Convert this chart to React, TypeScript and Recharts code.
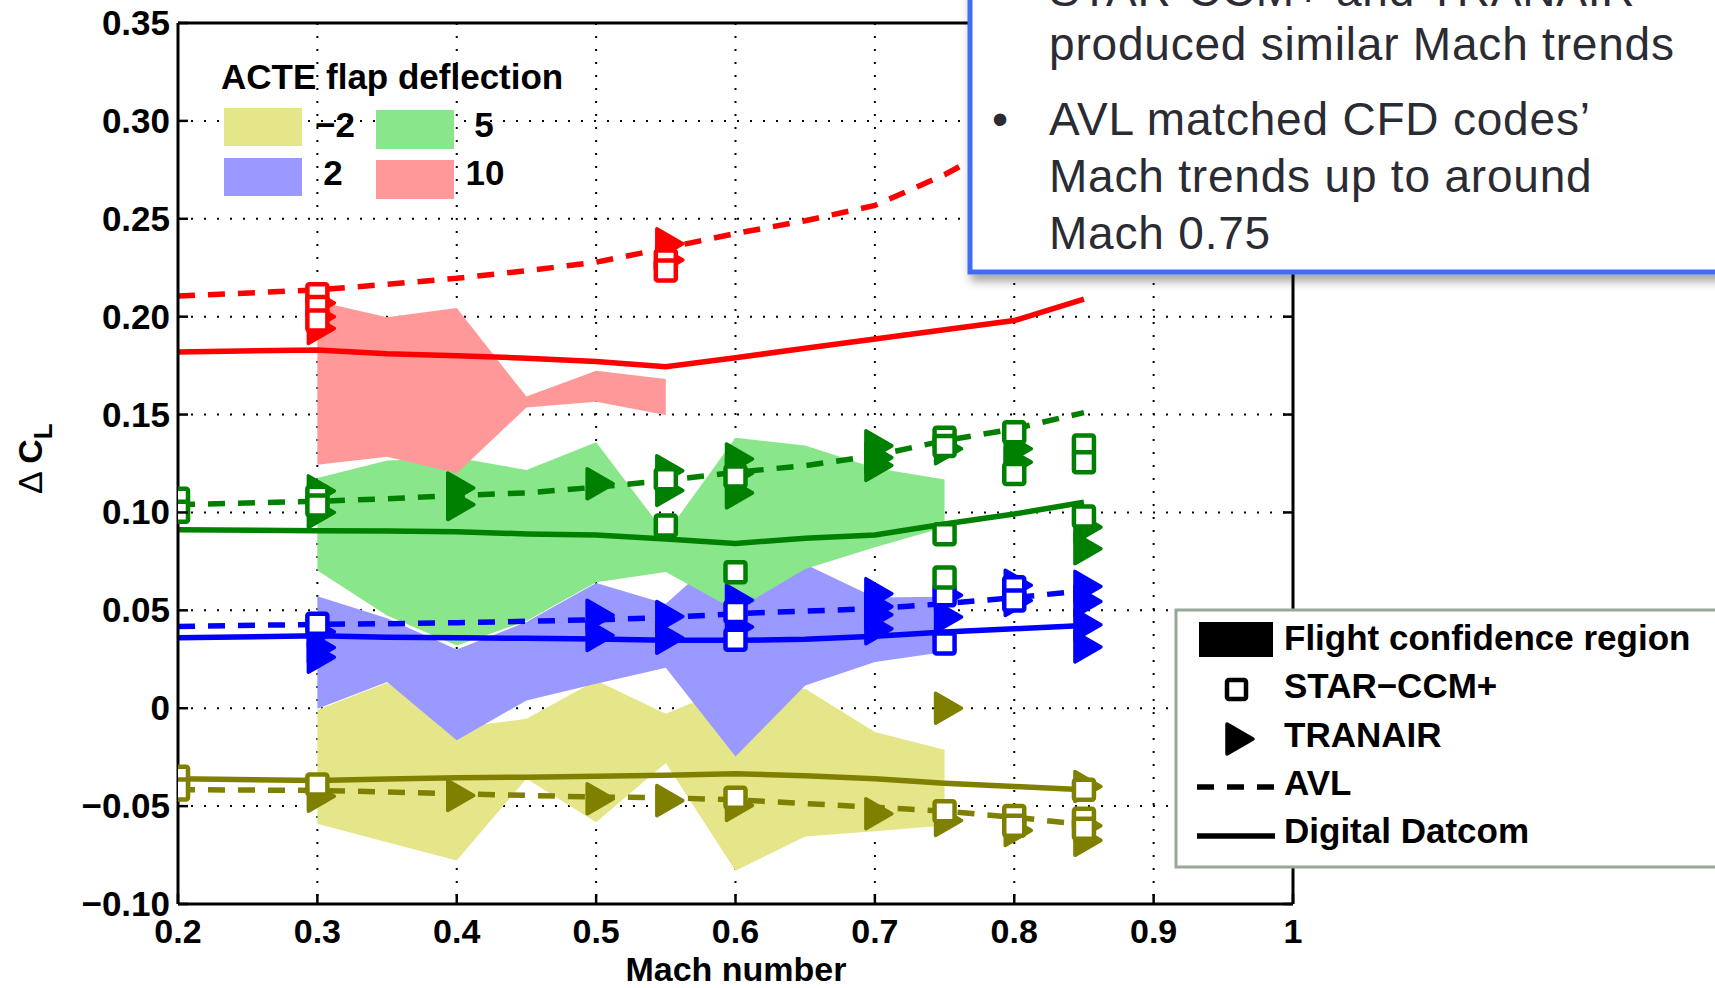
import React from "react"
import {
  ComposedChart,
  Area,
  Line,
  Scatter,
  XAxis,
  YAxis,
  CartesianGrid,
} from "recharts"

// Mach numbers and ΔCL values.
const xTicks = [0.2, 0.3, 0.4, 0.5, 0.6, 0.7, 0.8, 0.9, 1]
const yTicks = [-0.1, -0.05, 0, 0.05, 0.1, 0.15, 0.2, 0.25, 0.3, 0.35]
const yTickLabels = ["−0.10", "−0.05", "0", "0.05", "0.10", "0.15", "0.20", "0.25", "0.30", "0.35"]

// flight confidence regions
const bandMach = [0.3, 0.35, 0.4, 0.45, 0.5, 0.55, 0.6, 0.65, 0.7, 0.75]
const yellowLow = [-0.059, -0.0684, -0.0778, -0.036, -0.0582, -0.028, -0.083, -0.0655, -0.0628, -0.0599]
const yellowHigh = [-0.0009, 0.013, -0.01, -0.0054, 0.0142, -0.0028, 0.012, 0.0099, -0.0122, -0.0212]
const blueLow = [-0.0003, 0.0134, -0.0164, 0.004, 0.0125, 0.0207, -0.0247, 0.0116, 0.0236, 0.0287]
const blueHigh = [0.0572, 0.046, 0.03, 0.044, 0.064, 0.0534, 0.085, 0.0735, 0.0566, 0.057]
const greenLow = [0.0703, 0.0473, 0.032, 0.0445, 0.0644, 0.0696, 0.05, 0.0711, 0.0822, 0.0925]
const greenHigh = [0.1176, 0.1265, 0.128, 0.1217, 0.1359, 0.089, 0.1381, 0.1342, 0.1227, 0.1168]
const redBandMach = [0.3, 0.35, 0.4, 0.45, 0.5, 0.55]
const redLow = [0.1244, 0.1285, 0.12, 0.1536, 0.1565, 0.1498]
const redHigh = [0.2079, 0.1997, 0.2044, 0.1592, 0.1724, 0.1681]

// Digital Datcom (solid) and AVL (dashed)
const lineMach = [0.2, 0.3, 0.35, 0.4, 0.45, 0.5, 0.55, 0.6, 0.65, 0.7, 0.75, 0.8, 0.85]
const yellowDatcom = [-0.036, -0.0369, -0.0362, -0.0355, -0.0352, -0.0348, -0.0342, -0.0335, -0.0345, -0.036, -0.0383, -0.04, -0.0417]
const yellowAvl = [-0.0416, -0.042, -0.0428, -0.0437, -0.0445, -0.0454, -0.0457, -0.0468, -0.0487, -0.0506, -0.0526, -0.0557, -0.0594]
const blueDatcom = [0.036, 0.037, 0.0362, 0.036, 0.0357, 0.0353, 0.0347, 0.0347, 0.0352, 0.0367, 0.0389, 0.0406, 0.0423]
const blueAvl = [0.0418, 0.0428, 0.0432, 0.0437, 0.0444, 0.0452, 0.0463, 0.0483, 0.0496, 0.0509, 0.0534, 0.0565, 0.06]
const greenDatcom = [0.0911, 0.0907, 0.0905, 0.0902, 0.089, 0.0885, 0.0864, 0.0842, 0.0868, 0.0885, 0.0941, 0.0992, 0.1052]
const greenAvl = [0.104, 0.1057, 0.107, 0.1086, 0.11, 0.1129, 0.1163, 0.1205, 0.1239, 0.129, 0.1367, 0.1427, 0.151]
const redDatcom = [0.182, 0.183, 0.181, 0.18, 0.1788, 0.1771, 0.1744, 0.179, 0.1839, 0.1886, 0.1933, 0.198, 0.209]
const redAvl = [0.2105, 0.2137, 0.2165, 0.2196, 0.2235, 0.2278, 0.235, 0.2425, 0.249, 0.2568, 0.2725, 0.292, 0.313]

// STAR-CCM+ (squares)
const yellowStarMach = [0.2, 0.2, 0.3, 0.6, 0.75, 0.8, 0.8, 0.85, 0.85, 0.85]
const yellowStarCl = [-0.035, -0.0415, -0.039, -0.0457, -0.0526, -0.055, -0.06, -0.0417, -0.0565, -0.0616]
const blueStarMach = [0.3, 0.6, 0.6, 0.75, 0.75, 0.8, 0.8]
const blueStarCl = [0.0432, 0.0491, 0.035, 0.0577, 0.033, 0.0618, 0.055]
const greenStarMach = [0.2, 0.2, 0.3, 0.3, 0.55, 0.55, 0.6, 0.6, 0.75, 0.75, 0.75, 0.75, 0.8, 0.8, 0.85, 0.85, 0.85]
const greenStarCl = [0.107, 0.1003, 0.108, 0.1035, 0.117, 0.0933, 0.1183, 0.0694, 0.1382, 0.134, 0.0889, 0.0668, 0.141, 0.1197, 0.1342, 0.1257, 0.0979]
const redStarMach = [0.3, 0.3, 0.3, 0.55, 0.55]
const redStarCl = [0.2115, 0.205, 0.198, 0.2287, 0.2236]

// TRANAIR (triangles)
const yellowTranMach = [0.3, 0.4, 0.5, 0.55, 0.6, 0.7, 0.75, 0.75, 0.8, 0.85, 0.85, 0.85]
const yellowTranCl = [-0.045, -0.0446, -0.0463, -0.0472, -0.0497, -0.0539, 0, -0.0573, -0.0624, -0.04, -0.06, -0.0675]
const blueTranMach = [0.3, 0.3, 0.3, 0.5, 0.5, 0.55, 0.55, 0.6, 0.6, 0.7, 0.7, 0.7, 0.7, 0.75, 0.75, 0.8, 0.8, 0.85, 0.85, 0.85, 0.85]
const blueTranCl = [0.039, 0.031, 0.026, 0.0475, 0.0372, 0.0468, 0.0358, 0.0551, 0.0415, 0.0585, 0.0519, 0.0477, 0.0406, 0.0577, 0.0466, 0.0628, 0.055, 0.0622, 0.0545, 0.0426, 0.0313]
const greenTranMach = [0.3, 0.3, 0.4, 0.4, 0.5, 0.55, 0.55, 0.6, 0.6, 0.6, 0.7, 0.7, 0.7, 0.75, 0.8, 0.8, 0.85, 0.85]
const greenTranCl = [0.111, 0.1, 0.1125, 0.104, 0.1146, 0.1213, 0.1112, 0.1273, 0.12, 0.11, 0.134, 0.128, 0.124, 0.1325, 0.1325, 0.1257, 0.0925, 0.0815]
const redTranMach = [0.3, 0.3, 0.3, 0.55, 0.55]
const redTranCl = [0.207, 0.2, 0.194, 0.2372, 0.229]

const FONT = '"Liberation Sans", Arial, Helvetica, sans-serif'

const C = {
  yellow: "#808000",
  blue: "#0000ff",
  green: "#008000",
  red: "#ff0000",
  yellowFill: "#e5e68a",
  blueFill: "#9999ff",
  greenFill: "#8ae68a",
  redFill: "#ff9999",
}

const LINE_W = 5.5

const pts = (xs: number[], ys: number[]) => xs.map((x, i) => ({ x, y: ys[i] }))
const band = (xs: number[], lo: number[], hi: number[]) =>
  xs.map((x, i) => ({ x, range: [lo[i], hi[i]] }))

const SquareMark = (color: string) => (p: any) => {
  if (p.cx == null || p.cy == null) return <g />
  return (
    <rect x={p.cx - 10} y={p.cy - 10} width={20} height={20} rx={2} fill="#fff" stroke={color} strokeWidth={4.5} />
  )
}

const TriMark = (color: string) => (p: any) => {
  if (p.cx == null || p.cy == null) return <g />
  const { cx, cy } = p
  return (
    <polygon
      points={`${cx - 9},${cy - 15} ${cx - 9},${cy + 15} ${cx + 17},${cy}`}
      fill={color}
      stroke={color}
      strokeWidth={3.5}
      strokeLinejoin="round"
    />
  )
}

const fmtX = (v: number) => (v === 1 ? "1" : String(Math.round(v * 10) / 10))

const BottomTick = (p: any) => {
  const { x, y, payload } = p
  return (
    <g>
      <line x1={x} x2={x} y1={y} y2={y - 10} stroke="#000" strokeWidth={2.5} />
      <text x={x} y={y + 39} textAnchor="middle" fontFamily={FONT} fontWeight="bold" fontSize={34} fill="#000">
        {fmtX(payload.value)}
      </text>
    </g>
  )
}

const TopTick = (p: any) => {
  const { x, y } = p
  return <line x1={x} x2={x} y1={y} y2={y + 10} stroke="#000" strokeWidth={2.5} />
}

const LeftTick = (p: any) => {
  const { x, y, payload } = p
  const i = yTicks.findIndex((t) => Math.abs(t - payload.value) < 1e-9)
  return (
    <g>
      <line x1={x} x2={x + 10} y1={y} y2={y} stroke="#000" strokeWidth={2.5} />
      <text x={x - 8} y={y + 12} textAnchor="end" fontFamily={FONT} fontWeight="bold" fontSize={35} fill="#000">
        {yTickLabels[i]}
      </text>
    </g>
  )
}

const RightTick = (p: any) => {
  const { x, y } = p
  return <line x1={x} x2={x - 10} y1={y} y2={y} stroke="#000" strokeWidth={2.5} />
}

export default function App() {
  const W = 1715
  const H = 988

  const bands = [
    { key: "b-2", data: band(bandMach, yellowLow, yellowHigh), fill: C.yellowFill },
    { key: "b2", data: band(bandMach, blueLow, blueHigh), fill: C.blueFill },
    { key: "b5", data: band(bandMach, greenLow, greenHigh), fill: C.greenFill },
    { key: "b10", data: band(redBandMach, redLow, redHigh), fill: C.redFill },
  ]

  const groups = [
    { key: "y", color: C.yellow, datcom: yellowDatcom, avl: yellowAvl, sm: yellowStarMach, sc: yellowStarCl, tm: yellowTranMach, tc: yellowTranCl },
    { key: "b", color: C.blue, datcom: blueDatcom, avl: blueAvl, sm: blueStarMach, sc: blueStarCl, tm: blueTranMach, tc: blueTranCl },
    { key: "g", color: C.green, datcom: greenDatcom, avl: greenAvl, sm: greenStarMach, sc: greenStarCl, tm: greenTranMach, tc: greenTranCl },
    { key: "r", color: C.red, datcom: redDatcom, avl: redAvl, sm: redStarMach, sc: redStarCl, tm: redTranMach, tc: redTranCl },
  ]

  return (
    <div style={{ position: "absolute", left: 0, top: 0, width: W, height: H, background: "#fff", overflow: "hidden" }}>
      <ComposedChart width={W} height={H} margin={{ top: 22, right: 412, bottom: 24, left: 78 }}>
        <CartesianGrid stroke="#000" strokeWidth={2} strokeDasharray="2 11" />
        <XAxis
          dataKey="x"
          type="number"
          domain={[0.2, 1]}
          ticks={xTicks}
          interval={0}
          allowDataOverflow
          height={60}
          tickSize={0}
          tickMargin={0}
          tickLine={false}
          axisLine={{ stroke: "#000", strokeWidth: 3 }}
          tick={<BottomTick />}
        />
        <XAxis
          xAxisId="t"
          orientation="top"
          type="number"
          domain={[0.2, 1]}
          ticks={xTicks}
          interval={0}
          allowDataOverflow
          height={1}
          tickSize={0}
          tickMargin={0}
          tickLine={false}
          axisLine={{ stroke: "#000", strokeWidth: 3 }}
          tick={<TopTick />}
        />
        <YAxis
          type="number"
          domain={[-0.1, 0.35]}
          ticks={yTicks}
          interval={0}
          allowDataOverflow
          width={100}
          tickSize={0}
          tickMargin={0}
          tickLine={false}
          axisLine={{ stroke: "#000", strokeWidth: 3 }}
          tick={<LeftTick />}
        />
        <YAxis
          yAxisId="r"
          orientation="right"
          type="number"
          domain={[-0.1, 0.35]}
          ticks={yTicks}
          interval={0}
          allowDataOverflow
          width={10}
          tickSize={0}
          tickMargin={0}
          tickLine={false}
          axisLine={{ stroke: "#000", strokeWidth: 3 }}
          tick={<RightTick />}
        />
        {bands.map((b) => (
          <Area
            key={b.key}
            data={b.data}
            dataKey="range"
            type="linear"
            stroke="none"
            fill={b.fill}
            fillOpacity={1}
            dot={false}
            activeDot={false}
            isAnimationActive={false}
          />
        ))}
        {groups.flatMap((g) => [
          <Line
            key={g.key + "-datcom"}
            data={pts(lineMach, g.datcom)}
            dataKey="y"
            type="linear"
            stroke={g.color}
            strokeWidth={LINE_W}
            dot={false}
            activeDot={false}
            isAnimationActive={false}
          />,
          <Line
            key={g.key + "-avl"}
            data={pts(lineMach, g.avl)}
            dataKey="y"
            type="linear"
            stroke={g.color}
            strokeWidth={LINE_W}
            strokeDasharray="17 13"
            dot={false}
            activeDot={false}
            isAnimationActive={false}
          />,
          <Scatter
            key={g.key + "-tran"}
            data={pts(g.tm, g.tc)}
            dataKey="y"
            shape={TriMark(g.color)}
            isAnimationActive={false}
          />,
          <Scatter
            key={g.key + "-star"}
            data={pts(g.sm, g.sc)}
            dataKey="y"
            shape={SquareMark(g.color)}
            isAnimationActive={false}
          />,
        ])}
      </ComposedChart>

      <svg
        width={W}
        height={H}
        style={{ position: "absolute", left: 0, top: 0, pointerEvents: "none" }}
        fontFamily={FONT}
      >
        <defs>
          <filter id="boxShadow" x="-10%" y="-10%" width="130%" height="140%">
            <feDropShadow dx="3" dy="7" stdDeviation="5" floodColor="#000" floodOpacity="0.35" />
          </filter>
        </defs>

        {/* flap deflection legend */}
        <text x={221} y={89} fontWeight="bold" fontSize={35} fill="#000">ACTE flap deflection</text>
        <rect x={224} y={108} width={78} height={38} fill={C.yellowFill} />
        <rect x={376} y={110} width={78} height={39} fill={C.greenFill} />
        <rect x={224} y={158} width={78} height={38} fill={C.blueFill} />
        <rect x={376} y={160} width={78} height={39} fill={C.redFill} />
        <text x={335} y={137} textAnchor="middle" fontWeight="bold" fontSize={35}>−2</text>
        <text x={484} y={137} textAnchor="middle" fontWeight="bold" fontSize={35}>5</text>
        <text x={333} y={185} textAnchor="middle" fontWeight="bold" fontSize={35}>2</text>
        <text x={485} y={185} textAnchor="middle" fontWeight="bold" fontSize={35}>10</text>

        {/* axis titles */}
        <text x={736} y={981} textAnchor="middle" fontWeight="bold" fontSize={34}>Mach number</text>
        <text transform="rotate(-90 42 494)" x={42} y={494} fontSize={34}>
          <tspan fontWeight="normal">Δ </tspan>
          <tspan fontWeight="bold">C</tspan>
          <tspan fontWeight="bold" fontSize={26} dy={10}>L</tspan>
        </text>

        {/* method legend */}
        <rect x={1176} y={610} width={600} height={257} fill="#fff" stroke="#9aa69a" strokeWidth={3} />
        <rect x={1199} y={622} width={74} height={35} fill="#000" />
        <text x={1284} y={650} fontWeight="bold" fontSize={35}>Flight confidence region</text>
        <rect x={1227} y={680} width={19} height={19} rx={2} fill="#fff" stroke="#000" strokeWidth={4.5} />
        <text x={1284} y={698} fontWeight="bold" fontSize={35}>STAR−CCM+</text>
        <polygon points="1227,724 1227,754 1253,739" fill="#000" stroke="#000" strokeWidth={3.5} strokeLinejoin="round" />
        <text x={1284} y={747} fontWeight="bold" fontSize={35}>TRANAIR</text>
        <line x1={1197} x2={1275} y1={787} y2={787} stroke="#000" strokeWidth={LINE_W} strokeDasharray="17 13" />
        <text x={1284} y={795} fontWeight="bold" fontSize={35}>AVL</text>
        <line x1={1197} x2={1275} y1={836} y2={836} stroke="#000" strokeWidth={LINE_W} />
        <text x={1284} y={843} fontWeight="bold" fontSize={35}>Digital Datcom</text>

        {/* annotation box */}
        <rect x={970} y={-30} width={800} height={302} fill="#fff" stroke="#3f6df3" strokeWidth={5} filter="url(#boxShadow)" />
        <g fontSize={46} fill="#2b2b33" letterSpacing={0.8}>
          <text x={1049} y={6}>STAR-CCM+ and TRANAIR</text>
          <text x={1049} y={60}>produced similar Mach trends</text>
          <text x={992} y={135}>•</text>
          <text x={1049} y={135}>AVL matched CFD codes’</text>
          <text x={1049} y={192}>Mach trends up to around</text>
          <text x={1049} y={249}>Mach 0.75</text>
        </g>
      </svg>
    </div>
  )
}
